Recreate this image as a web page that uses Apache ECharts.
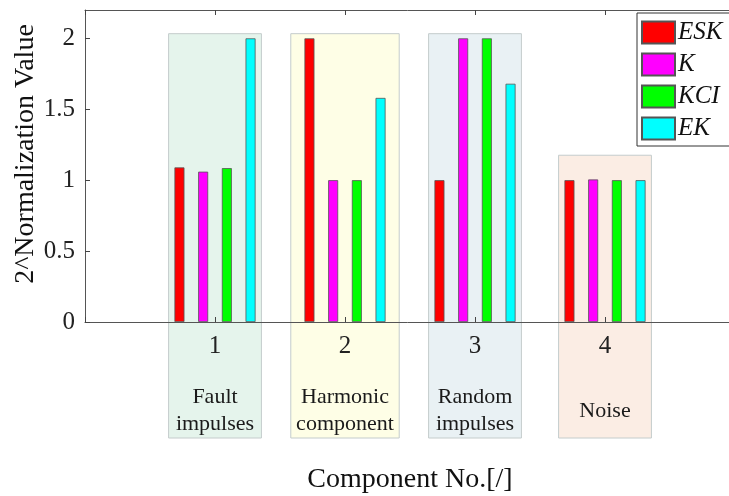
<!DOCTYPE html>
<html>
<head>
<meta charset="utf-8">
<script src="https://cdn.jsdelivr.net/npm/echarts@6/dist/echarts.min.js"></script>
<style>html,body{margin:0;padding:0;background:#fff;}#chart{width:729px;height:496px;}</style>
</head>
<body>
<div id="chart"></div>
<script>
const categories = ['1', '2', '3', '4'];
const seriesNames = ['ESK', 'K', 'KCI', 'EK'];
const eskValues = [1.09, 2.00, 1.00, 1.00];
const kValues = [1.06, 1.00, 2.00, 1.005];
const kciValues = [1.085, 1.00, 2.00, 1.00];
const ekValues = [2.00, 1.58, 1.68, 1.00];
const groupLabels = ['Fault\nimpulses', 'Harmonic\ncomponent', 'Random\nimpulses', 'Noise'];
const groupTop = [2.033, 2.033, 2.033, 1.176];
const yTicks = [0, 0.5, 1, 1.5, 2];
const xTitle = 'Component No.[/]';
const yTitle = '2^Normalization Value';

const colors = ['#ff0000', '#ff00ff', '#00ff00', '#00ffff'];
const boxFill = ['#e5f4ec', '#fefee6', '#e9f1f4', '#fbede4'];
const boxHalf = [0.357, 0.417, 0.357, 0.357];
const SERIF = '"Liberation Serif", "Times New Roman", serif';

const axisData = [''].concat(categories, ['']);
const allValues = [eskValues, kValues, kciValues, ekValues];

const chart = echarts.init(document.getElementById('chart'), null, {renderer: 'canvas'});

const barSeries = seriesNames.map((name, s) => ({
  name: name,
  type: 'bar',
  xAxisIndex: 0,
  z: 3,
  barWidth: 10,
  barGap: '137%',
  itemStyle: {color: colors[s], borderColor: '#555', borderWidth: 0.8},
  data: allValues[s].map((v, i) => [i + 1, v])
}));

const boxSeries = {
  type: 'custom',
  xAxisIndex: 0,
  z: 1,
  clip: false,
  silent: true,
  data: categories.map((c, i) => [i + 1, groupTop[i]]),
  renderItem: function (params, api) {
    const i = params.dataIndex;
    const idx = api.value(0);
    const top = api.coord([idx, api.value(1)]);
    const zero = api.coord([idx, 0]);
    const band = api.size([1, 0])[0];
    const hw = band * boxHalf[i];
    const bottom = zero[1] + 116;
    return {
      type: 'group',
      children: [
        {
          type: 'rect',
          shape: {x: top[0] - hw, y: top[1], width: hw * 2, height: bottom - top[1]},
          style: {fill: boxFill[i], stroke: '#c4cccc', lineWidth: 1}
        },
        {
          type: 'text',
          x: top[0], y: zero[1] + 89,
          style: {
            text: groupLabels[i], fill: '#1a1a1a',
            font: '22px ' + SERIF, lineHeight: 27,
            align: 'center', verticalAlign: 'middle'
          }
        }
      ]
    };
  }
};

chart.setOption({
  animation: false,
  backgroundColor: '#fff',
  grid: {left: 85, top: 10, width: 650, height: 312, containLabel: false, outerBoundsMode: 'none'},
  legend: {
    data: seriesNames,
    orient: 'vertical',
    left: 637, top: 13,
    itemWidth: 33, itemHeight: 22, itemGap: 7,
    padding: [7, 14, 5, 4],
    borderColor: '#333', borderWidth: 1, backgroundColor: '#fff',
    icon: 'rect',
    textStyle: {fontFamily: SERIF, fontStyle: 'italic', fontSize: 25, color: '#111', padding: [0, 0, 0, -2]}
  },
  graphic: [
    {
      type: 'text', x: 26, y: 154, rotation: Math.PI / 2, z: 20,
      style: {text: yTitle, font: '28px ' + SERIF, fill: '#111', align: 'center', verticalAlign: 'middle'}
    }
  ],
  xAxis: [
    {
      type: 'category', data: axisData, boundaryGap: false, position: 'bottom', z: 10,
      axisLine: {lineStyle: {color: '#555', width: 1}},
      axisTick: {inside: true, length: 5, lineStyle: {color: '#444'}},
      axisLabel: {fontFamily: SERIF, fontSize: 25, color: '#222', margin: 12, interval: 0},
      name: xTitle, nameLocation: 'middle', nameGap: 144,
      nameTextStyle: {fontFamily: SERIF, fontSize: 28, color: '#111'},
      splitLine: {show: false}
    },
    {
      type: 'category', data: axisData, boundaryGap: false, position: 'top', z: 10,
      axisLine: {lineStyle: {color: '#555', width: 1}},
      axisTick: {inside: true, length: 5, lineStyle: {color: '#444'}},
      axisLabel: {show: false},
      splitLine: {show: false}
    }
  ],
  yAxis: {
    type: 'value', min: 0, max: 2.2, interval: 0.5, z: 10,
    axisLine: {show: true, lineStyle: {color: '#555', width: 1}},
    axisTick: {show: true, inside: true, length: 5, lineStyle: {color: '#444'}},
    axisLabel: {
      fontFamily: SERIF, fontSize: 25, color: '#222', margin: 10, showMaxLabel: false,
      formatter: v => (yTicks.indexOf(v) >= 0 ? String(v) : '')
    },
    splitLine: {show: false}
  },
  series: [boxSeries].concat(barSeries)
});
</script>
</body>
</html>
